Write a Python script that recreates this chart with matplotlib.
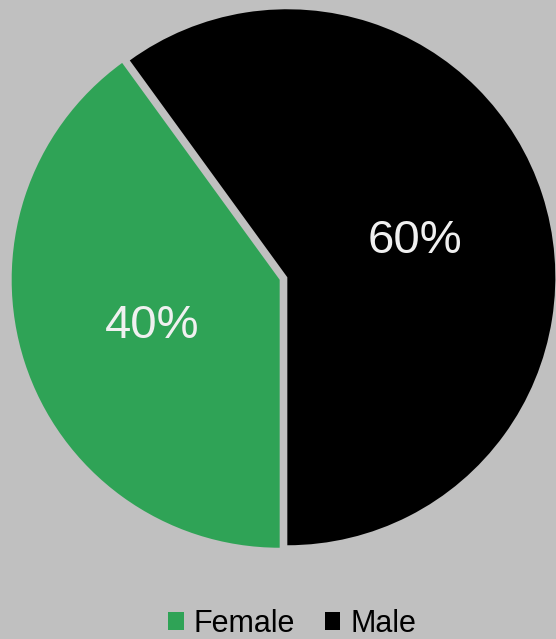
import matplotlib
matplotlib.use("Agg")
import matplotlib.pyplot as plt
from matplotlib.patches import Patch

categories = ["Female", "Male"]
values = [40, 60]
colors = ["#2FA356", "#000000"]

bg = "#C0C0C0"
fig = plt.figure(figsize=(5.56, 6.39), dpi=100, facecolor=bg)
R = 268
cx, cy = 283.5, 639 - 278.5
ax = fig.add_axes([(cx - R) / 556, (cy - R) / 639, 2 * R / 556, 2 * R / 639])
ax.set_facecolor(bg)
ax.axis("off")

wedges, texts, autotexts = ax.pie(
    values, colors=colors, startangle=270, counterclock=False,
    explode=[0.015, 0.015], autopct="%d%%", pctdistance=0.5,
    wedgeprops=dict(linewidth=0), radius=1.0,
    textprops=dict(color="#F0F0F0", fontsize=34, family="Liberation Sans"))
for t in autotexts:
    t.set_va("center_baseline")
ax.set_xlim(-1, 1)
ax.set_ylim(-1, 1)
ax.set_aspect("auto")

handles = [Patch(facecolor=c, edgecolor="none") for c in colors]
fig.legend(handles, categories, loc="center", bbox_to_anchor=(292 / 556, 15 / 639),
           ncol=2, frameon=False, prop=dict(family="Liberation Sans", size=22),
           handlelength=0.52, handleheight=0.52, handletextpad=0.32,
           columnspacing=0.97, borderpad=0, borderaxespad=0)

fig.savefig("out.png", dpi=100, facecolor=bg)
